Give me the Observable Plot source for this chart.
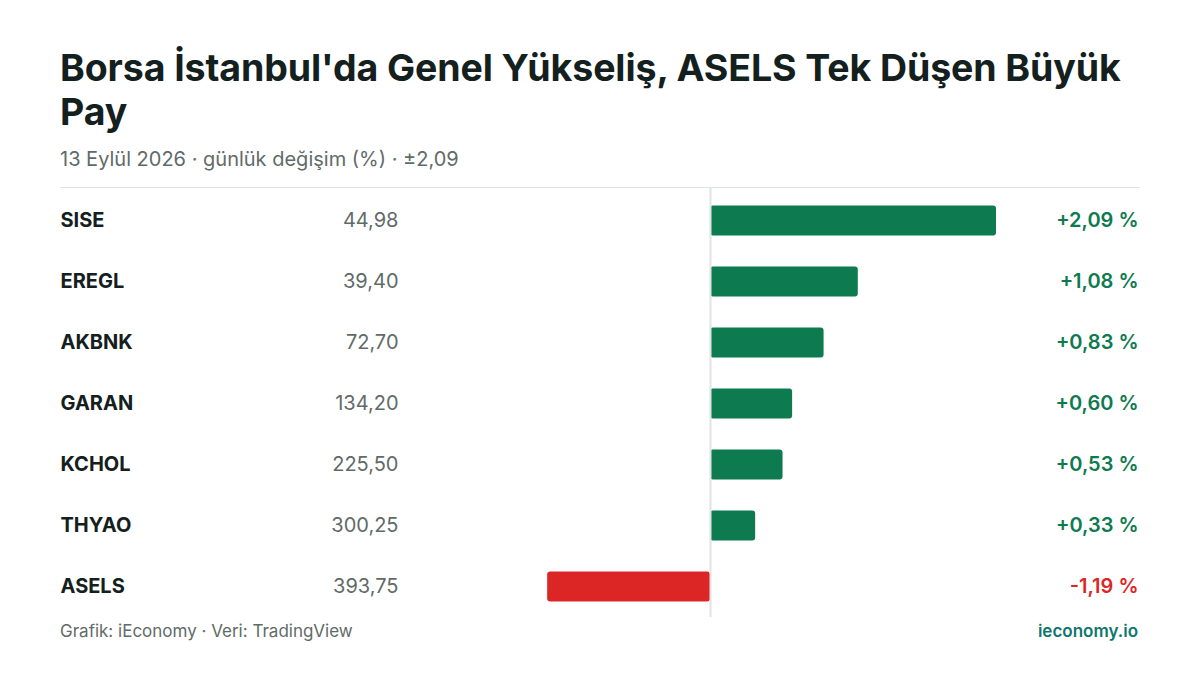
<!DOCTYPE html>
<html><head><meta charset="utf-8">
<script src="https://cdn.jsdelivr.net/npm/d3@7"></script>
<script src="https://cdn.jsdelivr.net/npm/@observablehq/plot@0.6"></script>
<style>
html,body{margin:0;padding:0;background:#fff;}
body{width:1200px;height:675px;position:relative;overflow:hidden;font-family:Inter,"Noto Sans",sans-serif;}
#title{position:absolute;left:60px;top:46px;width:1090px;font-size:37.5px;line-height:44px;font-weight:700;color:#14201d;letter-spacing:-0.1px;}
#sub{position:absolute;left:60px;top:147px;font-size:20px;line-height:24px;color:#5f6b68;}
#sep{position:absolute;left:60px;top:187px;width:1080px;height:2px;background:#e0e4e3;}
#chart{position:absolute;left:0;top:188px;}
#foot{position:absolute;left:60px;top:621px;font-size:17px;line-height:20px;color:#5f6b68;}
#brand{position:absolute;right:62px;top:621px;font-size:17px;line-height:20px;color:#0f766e;font-weight:600;}
</style></head>
<body>
<div id="title">Borsa İstanbul'da Genel Yükseliş, ASELS Tek Düşen Büyük Pay</div>
<div id="sub">13 Eylül 2026 · günlük değişim (%) · ±2,09</div>
<div id="sep"></div>
<div id="chart"></div>
<div id="foot">Grafik: iEconomy · Veri: TradingView</div>
<div id="brand">ieconomy.io</div>
<script>
const tickers = ["SISE","EREGL","AKBNK","GARAN","KCHOL","THYAO","ASELS"];
const prices = [44.98, 39.40, 72.70, 134.20, 225.50, 300.25, 393.75];
const changes = [2.09, 1.08, 0.83, 0.60, 0.53, 0.33, -1.19];
const extent = 2.09;

const fmt2 = v => v.toFixed(2).replace(".", ",");
const data = tickers.map((t, i) => ({
  ticker: t,
  price: prices[i],
  change: changes[i],
  priceLabel: fmt2(prices[i]),
  changeLabel: (changes[i] > 0 ? "+" : "") + fmt2(changes[i]) + " %"
}));
const green = "#0d7a4f", red = "#dc2626";
const col = d => d.change >= 0 ? green : red;

const chart = Plot.plot({
  width: 1200,
  height: 429,
  marginLeft: 424,
  marginRight: 204,
  marginTop: 2,
  marginBottom: 0,
  style: {fontFamily: "Inter, 'Noto Sans', sans-serif", background: "#fff"},
  x: {domain: [-extent, extent], axis: null},
  y: {domain: tickers, axis: null, padding: 0, round: false},
  marks: [
    Plot.barX(data, {x1: 0, x2: "change", y: "ticker", fill: col, rx: 3, insetTop: 15.5, insetBottom: 15.5}),
    Plot.ruleX([0], {stroke: "#e0e4e3", strokeWidth: 2, insetTop: -2}),
    Plot.text(data, {y: "ticker", text: "ticker", frameAnchor: "left", dx: -364, textAnchor: "start", fontSize: 20, fontWeight: 700, fill: "#14201d"}),
    Plot.text(data, {y: "ticker", text: "priceLabel", frameAnchor: "left", dx: -26, textAnchor: "end", fontSize: 20, fill: "#5f6b68"}),
    Plot.text(data, {y: "ticker", text: "changeLabel", frameAnchor: "right", dx: 142, textAnchor: "end", fontSize: 20, fontWeight: 600, fill: col})
  ]
});
document.getElementById("chart").appendChild(chart);
</script>
</body></html>
